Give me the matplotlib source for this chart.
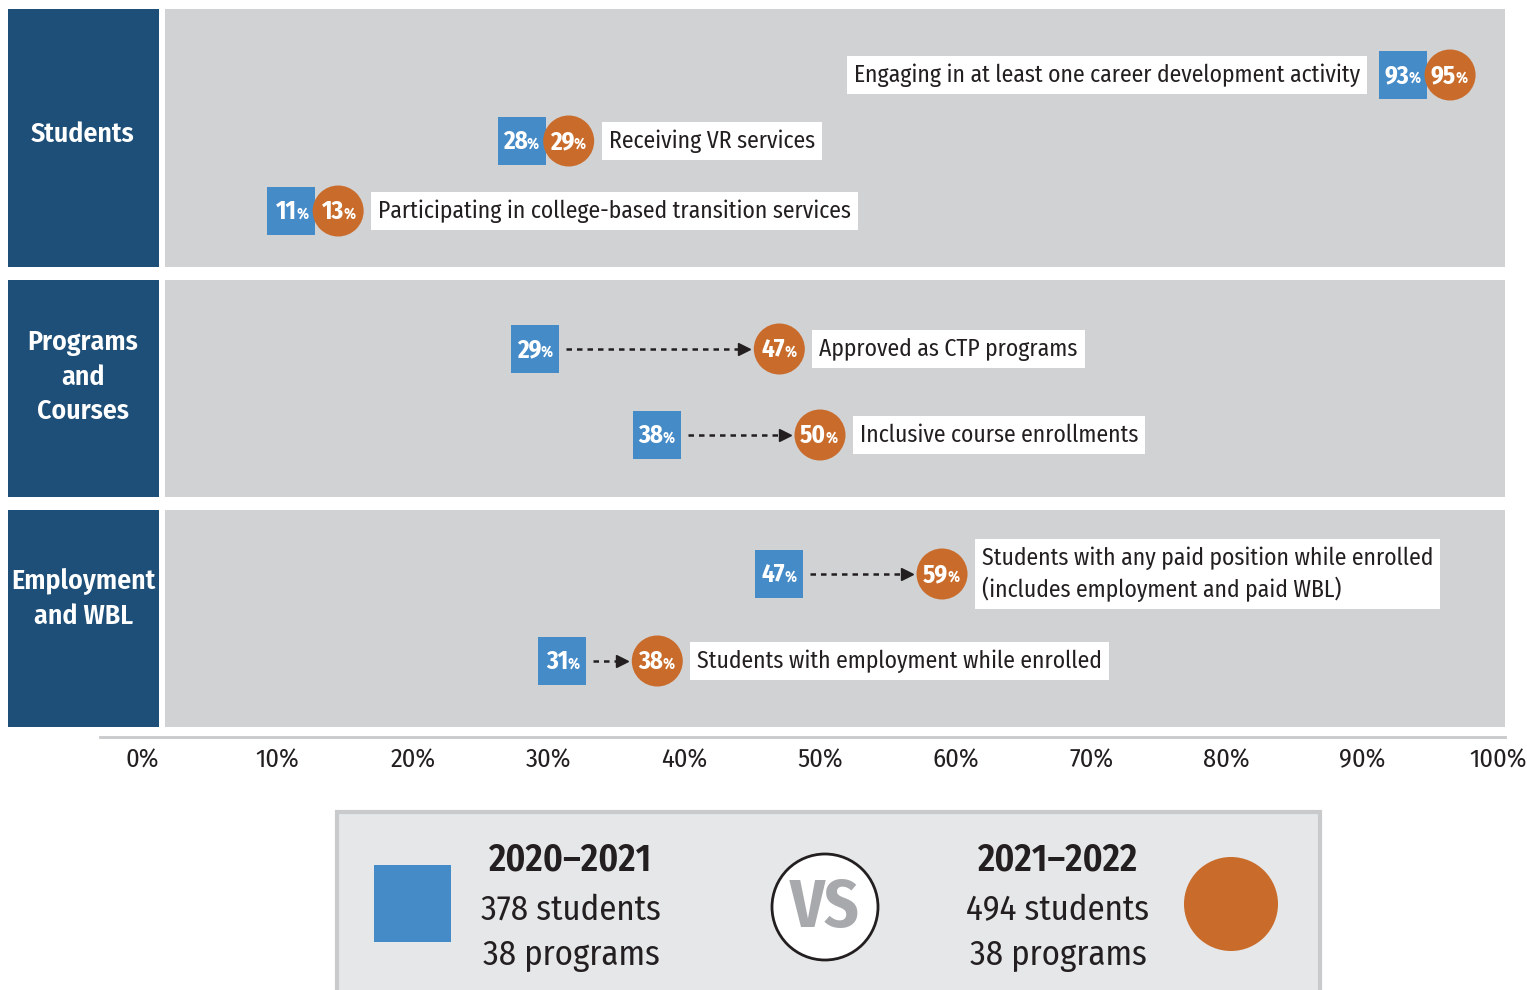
import matplotlib
matplotlib.use('Agg')
import matplotlib.pyplot as plt
from matplotlib import font_manager
from matplotlib.patches import Rectangle, Ellipse

# pick a condensed sans close to the original typeface
installed = {f.name for f in font_manager.fontManager.ttflist}
font = 'DejaVu Sans'
for cand in ['Fira Sans Condensed', 'Roboto Condensed', 'IBM Plex Sans Condensed',
             'Barlow Semi Condensed', 'Sofia Sans Condensed', 'Saira SemiCondensed']:
    if cand in installed:
        font = cand
        break
plt.rcParams['font.family'] = [font, 'DejaVu Sans']

# ---- data ----
groups = ['Students', 'Programs\nand\nCourses', 'Employment\nand WBL']
row_labels = ['Engaging in at least one career development activity',
              'Receiving VR services',
              'Participating in college-based transition services',
              'Approved as CTP programs',
              'Inclusive course enrollments',
              'Students with any paid position while enrolled\n(includes employment and paid WBL)',
              'Students with employment while enrolled']
row_group = [0, 0, 0, 1, 1, 2, 2]
pct_2021 = [93, 28, 11, 29, 38, 47, 31]
pct_2022 = [95, 29, 13, 47, 50, 59, 38]
tick_vals = [0, 10, 20, 30, 40, 50, 60, 70, 80, 90, 100]
years = ['2020\u20132021', '2021\u20132022']
n_students = [378, 494]
n_programs = [38, 38]

# ---- layout (pixels) ----
W, H = 1527, 990
X0 = 142.0      # pixel of 0%
PX = 13.56      # pixels per percent
row_y = [75, 141, 211, 349, 435, 574, 661]
group_box = [(9, 267), (280, 497), (510, 727)]
group_label_y = [134, 377, 599]

BLUE = '#458BC8'
ORANGE = '#C96C2B'
NAVY = '#1D4F79'
PANEL = '#D1D2D4'
INK = '#231F20'


def u(px):
    return px / PX


def xd(px):
    return (px - X0) / PX


fig = plt.figure(figsize=(W / 100, H / 100), dpi=100)
ax = fig.add_axes([0, 0, 1, 1])
ax.set_xlim(xd(0), xd(W))
ax.set_ylim(H, 0)
ax.axis('off')

# group boxes and panels
for g, (y0, y1) in enumerate(group_box):
    ax.add_patch(Rectangle((xd(8), y0), u(151), y1 - y0, fc=NAVY, ec='none'))
    ax.add_patch(Rectangle((xd(165), y0), u(1340), y1 - y0, fc=PANEL, ec='none'))
    ax.text(xd(83), group_label_y[g], groups[g], color='white', fontsize=20,
            fontweight='semibold', ha='center', va='center', linespacing=1.38)

# rows
for i in range(len(pct_2021)):
    yc = row_y[i]
    v1 = pct_2021[i]
    v2 = pct_2022[i]
    cx = max(v2, v1 + u(47))
    ax.add_patch(Rectangle((v1 - u(24), yc - 24), u(48), 48, fc=BLUE, ec='none', zorder=3))
    ax.add_patch(Ellipse((cx, yc), u(51), 51, fc=ORANGE, ec='none', zorder=4))

    if cx - v1 > u(70):
        ax.plot([v1 + u(31), cx - u(36)], [yc, yc], color=INK, lw=1.8,
                ls=(0, (2.2, 2.0)), zorder=2)
        ax.plot(cx - u(35), yc, marker='>', ms=8, color=INK, mec=INK, zorder=2)

    for x, v, z in [(v1, v1, 5), (cx, v2, 6)]:
        ax.text(x + u(6), yc + 8, str(v), color='white', fontsize=18,
                fontweight='bold', ha='right', va='baseline', zorder=z)
        ax.text(x + u(5), yc + 8, '%', color='white', fontsize=11,
                fontweight='bold', ha='left', va='baseline', zorder=z)

    box = dict(boxstyle='square,pad=0.3', fc='white', ec='none')
    if i == 0:
        ax.text(v1 - u(24 + 12 + 7), yc, row_labels[i], color=INK, fontsize=17,
                ha='right', va='center', bbox=box)
    else:
        ax.text(cx + u(25 + 8 + 7), yc, row_labels[i], color=INK, fontsize=17,
                ha='left', va='center', bbox=box, linespacing=1.3)

# x axis
ax.plot([xd(100), xd(1505)], [737, 737], color='#C8C9CB', lw=2)
for t in tick_vals:
    ax.text(t, 760, f'{t}%', color=INK, fontsize=19, ha='center', va='center')

# legend
ax.add_patch(Rectangle((xd(337), 812), u(983), 190, fc='#E6E7E8', ec='#C9CACC', lw=3))
ax.add_patch(Rectangle((xd(374), 865), u(77), 77, fc=BLUE, ec='none'))
ax.add_patch(Ellipse((xd(1231), 904), u(94), 94, fc=ORANGE, ec='none'))
ax.add_patch(Ellipse((xd(825), 907), u(106), 106, fc='white', ec=INK, lw=2))
ax.text(xd(825), 909, 'VS', color='#A7A9AC', fontsize=48, fontweight='bold',
        ha='center', va='center')
for k, xc in enumerate([571, 1058]):
    ax.text(xd(xc), 860, years[k], color=INK, fontsize=27, fontweight='semibold',
            ha='center', va='center')
    ax.text(xd(xc), 910, f'{n_students[k]} students', color=INK, fontsize=25,
            ha='center', va='center')
    ax.text(xd(xc), 955, f'{n_programs[k]} programs', color=INK, fontsize=25,
            ha='center', va='center')

fig.savefig('out.png', dpi=100, facecolor='white')
